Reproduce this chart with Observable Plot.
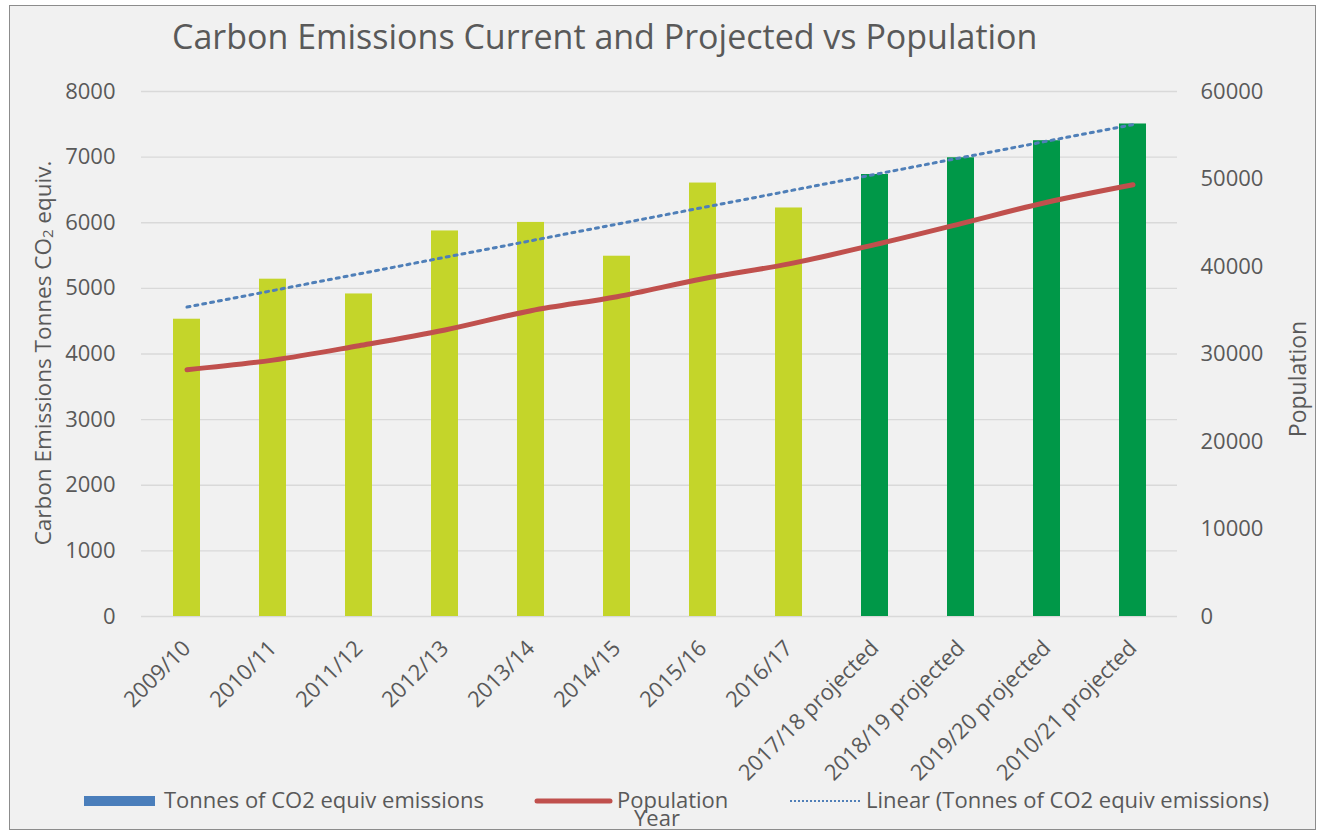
<!DOCTYPE html>
<html>
<head>
<meta charset="utf-8">
<script src="https://cdn.jsdelivr.net/npm/d3@7"></script>
<script src="https://cdn.jsdelivr.net/npm/@observablehq/plot@0.6"></script>
<style>
  body { margin: 0; background: #ffffff; }
  #chart { position: relative; width: 1319px; height: 832px; font-family: "Open Sans", sans-serif; }
  #chart > svg { position: absolute; left: 0; top: 0; }
</style>
</head>
<body>
<div id="chart"></div>
<script>
// Financial years (categories)
const years = [
  "2009/10", "2010/11", "2011/12", "2012/13", "2013/14", "2014/15",
  "2015/16", "2016/17", "2017/18 projected", "2018/19 projected",
  "2019/20 projected", "2010/21 projected"
];
// Tonnes of CO2 equivalent emissions per year
const emissions = [4530, 5140, 4915, 5875, 6005, 5490, 6605, 6225, 6735, 6990, 7250, 7505];
// Population per year
const population = [28200, 29300, 30950, 32750, 34950, 36550, 38600, 40300, 42500, 44900, 47350, 49350];
// Whether the year is measured or projected
const status = ["actual", "actual", "actual", "actual", "actual", "actual", "actual", "actual",
  "projected", "projected", "projected", "projected"];
// Axis ticks
const emissionTicks = [0, 1000, 2000, 3000, 4000, 5000, 6000, 7000, 8000];
const populationTicks = [0, 10000, 20000, 30000, 40000, 50000, 60000];

const W = 1319, H = 832;
const textColor = "#595959";
const lightGreen = "#c4d52a";
const darkGreen = "#009848";
const popColor = "#c0504d";
const trendColor = "#4f7fb8";
const legendBlue = "#4a7ebb";

// population is drawn against the emissions scale: 60000 people ↔ 8000 tonnes
const k = 8000 / 60000;

const rows = years.map((year, i) => ({
  year,
  emissions: emissions[i],
  population: population[i],
  status: status[i]
}));

// least-squares linear trend of emissions over the year index
const n = emissions.length;
const meanX = (n - 1) / 2;
const meanY = d3.mean(emissions);
const slope = d3.sum(emissions, (v, i) => (i - meanX) * (v - meanY)) /
  d3.sum(emissions, (v, i) => (i - meanX) ** 2);
const intercept = meanY - slope * meanX;
const trend = years.map((year, i) => ({ year, value: intercept + slope * i }));

const plot = Plot.plot({
  width: W,
  height: H,
  marginTop: 91,
  marginBottom: H - 616,
  marginLeft: 141,
  marginRight: W - 1177,
  style: { background: "transparent", color: textColor, fontFamily: "'Open Sans', sans-serif", fontSize: "22px" },
  x: { domain: years, paddingInner: 0.69, paddingOuter: 0.345, label: null },
  y: { domain: [0, 8000], label: null },
  color: { domain: ["actual", "projected"], range: [lightGreen, darkGreen] },
  marks: [
    Plot.gridY(emissionTicks, { stroke: "#d9d9d9", strokeOpacity: 1, strokeWidth: 1.4 }),
    Plot.barY(rows, { x: "year", y: "emissions", fill: "status" }),
    Plot.line(trend, { x: "year", y: "value", stroke: trendColor, strokeWidth: 3, strokeDasharray: "3,5" }),
    Plot.line(rows, { x: "year", y: d => d.population * k, stroke: popColor, strokeWidth: 5,
      curve: "catmull-rom", strokeLinecap: "round" }),
    Plot.axisY(emissionTicks, { anchor: "left", tickSize: 0, tickPadding: 26, label: null,
      tickFormat: d => String(d), fontSize: 22 }),
    Plot.axisY(populationTicks.map(p => p * k), { anchor: "right", tickSize: 0, tickPadding: 23, label: null,
      tickFormat: d => String(Math.round(d / k)), fontSize: 22 }),
    Plot.axisX({ tickRotate: -45, tickSize: 0, tickPadding: 28, label: null, fontSize: 22 })
  ]
});

const chart = d3.select("#chart");

// chart area background and border
const back = chart.append("svg").attr("width", W).attr("height", H);
back.append("rect")
  .attr("x", 9.5).attr("y", 5.5).attr("width", 1306).attr("height", 824)
  .attr("fill", "#f1f1f1").attr("stroke", "#8c8c8c");

chart.node().appendChild(plot);

// titles and legend
const over = chart.append("svg").attr("width", W).attr("height", H)
  .style("pointer-events", "none")
  .attr("font-family", "'Open Sans', sans-serif").attr("fill", textColor);

over.append("text").attr("x", 172).attr("y", 49).attr("font-size", 34)
  .text("Carbon Emissions Current and Projected vs Population");

const yTitle = over.append("text")
  .attr("transform", "translate(42,353) rotate(-90)")
  .attr("text-anchor", "middle").attr("dominant-baseline", "central")
  .attr("font-size", 22.5);
yTitle.append("tspan").text("Carbon Emissions Tonnes CO");
yTitle.append("tspan").attr("font-size", 15).attr("dy", 5).text("2");
yTitle.append("tspan").attr("dy", -5).text(" equiv.");

over.append("text")
  .attr("transform", "translate(1297,379) rotate(-90)")
  .attr("text-anchor", "middle").attr("dominant-baseline", "central")
  .attr("font-size", 23).text("Population");

// legend
const ly = 801;
over.append("rect").attr("x", 84).attr("y", ly - 5).attr("width", 71).attr("height", 10).attr("fill", legendBlue);
over.append("text").attr("x", 164).attr("y", 808).attr("font-size", 22).text("Tonnes of CO2 equiv emissions");
over.append("line").attr("x1", 537).attr("x2", 610).attr("y1", ly).attr("y2", ly)
  .attr("stroke", popColor).attr("stroke-width", 5).attr("stroke-linecap", "round");
over.append("text").attr("x", 617).attr("y", 808).attr("font-size", 22).text("Population");
over.append("line").attr("x1", 790).attr("x2", 860).attr("y1", ly).attr("y2", ly)
  .attr("stroke", trendColor).attr("stroke-width", 2).attr("stroke-dasharray", "2,2");
over.append("text").attr("x", 866).attr("y", 808).attr("font-size", 22).text("Linear (Tonnes of CO2 equiv emissions)");

// x axis title
over.append("text").attr("x", 657).attr("y", 826).attr("text-anchor", "middle").attr("font-size", 22).text("Year");
</script>
</body>
</html>
